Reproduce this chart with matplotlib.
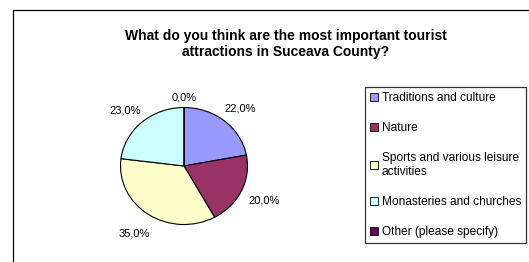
import matplotlib

matplotlib.use("Agg")
import matplotlib.pyplot as plt
from matplotlib.patches import Patch, Rectangle

plt.rcParams["font.family"] = ["Liberation Sans", "DejaVu Sans"]

title = "What do you think are the most important tourist\nattractions in Suceava County?"
categories = [
    "Traditions and culture",
    "Nature",
    "Sports and various leisure\nactivities",
    "Monasteries and churches",
    "Other (please specify)",
]
shares = [22.0, 20.0, 35.0, 23.0, 0.0]
colors = ["#9999FF", "#993366", "#FFFFCC", "#CCFFFF", "#660066"]

W, H = 529, 262
fig = plt.figure(figsize=(W / 100, H / 100), dpi=100)

# outer chart-area border (cut by the right and bottom figure edges)
fig.patches.append(Rectangle((13 / W, -0.1), 1.2, 1 - 10 / H + 0.1, transform=fig.transFigure,
                             fill=False, edgecolor="black", linewidth=0.9))

fig.text(286 / W, 1 - 44 / H, title, ha="center", va="center", fontsize=10,
         fontweight="bold", linespacing=1.2)

# pie drawn into an axes stretched to the slightly elliptic shape of the original
cx, cy, rx, ry = 184, 166, 63.5, 58.5
ax = fig.add_axes([(cx - rx) / W, (H - cy - ry) / H, 2 * rx / W, 2 * ry / H])
wedges, _, autotexts = ax.pie(
    shares, colors=colors, startangle=90, counterclock=False,
    autopct=lambda p: f"{p:.1f}%".replace(".", ","), pctdistance=1.4,
    wedgeprops=dict(edgecolor="black", linewidth=0.8),
    textprops=dict(fontsize=8),
)
ax.set_aspect("auto")
ax.set_xlim(-1, 1)
ax.set_ylim(-1, 1)
# the empty slice label sits closer to the rim
x0, y0 = autotexts[-1].get_position()
autotexts[-1].set_position((x0, y0 * 0.84))
# Excel drops the upper labels a little
for t in autotexts[:4]:
    x, y = t.get_position()
    if y > 0:
        t.set_position((x, y - 0.1))

handles = [Patch(facecolor=c, edgecolor="black", linewidth=0.6) for c in colors]
fig.legend(handles, categories, loc="upper left", bbox_to_anchor=(365 / W, 1 - 87 / H),
           fontsize=8.6, frameon=True, fancybox=False, edgecolor="black",
           handlelength=0.65, handleheight=0.65, handletextpad=0.3,
           labelspacing=1.5, borderpad=0.45, borderaxespad=0)
fig.legends[0].get_frame().set_linewidth(0.9)

fig.savefig("out.png", dpi=100)
